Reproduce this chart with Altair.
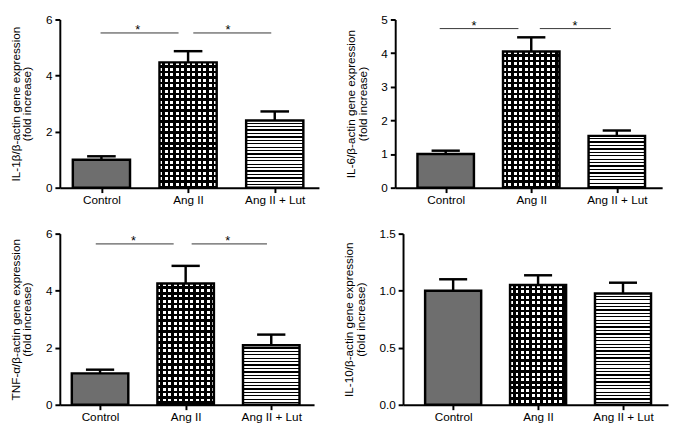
import json
import altair as alt
import pandas as pd

categories = ["Control", "Ang II", "Ang II + Lut"]

il1b_mean = [1.00, 4.47, 2.40]
il1b_err = [0.12, 0.40, 0.32]
il6_mean = [1.00, 4.05, 1.54]
il6_err = [0.10, 0.42, 0.16]
tnf_mean = [1.10, 4.25, 2.09]
tnf_err = [0.13, 0.62, 0.37]
il10_mean = [1.00, 1.05, 0.975]
il10_err = [0.10, 0.085, 0.095]

# significance bars: (start, end, height) in category-index units, and star positions
il1b_sig = [(-0.01, 0.89, 5.52), (1.06, 1.96, 5.52)]
il1b_star = [0.42, 1.46]
il6_sig = [(-0.07, 0.85, 4.73), (1.10, 1.93, 4.73)]
il6_star = [0.33, 1.51]
tnf_sig = [(-0.05, 0.86, 5.64), (1.07, 1.95, 5.64)]
tnf_star = [0.39, 1.49]

FONT = "Liberation Sans"
HW = 0.33      # bar half width (index units)
CAP = 0.165    # error cap half width


def stripes(length_px, period, dark, dark_color, light_color):
    stops = []
    pos = 0.0
    while pos < length_px - 1e-6:
        mid = min(pos + period - dark, length_px)
        end = min(pos + period, length_px)
        stops += [(pos, light_color), (mid, light_color), (mid, dark_color), (end, dark_color)]
        pos += period
    return [alt.GradientStop(offset=round(p / length_px, 5), color=c) for p, c in stops]


def grad(stops, vertical):
    if vertical:
        return alt.LinearGradient(gradient="linear", stops=stops, x1=0, x2=0, y1=0, y2=1)
    return alt.LinearGradient(gradient="linear", stops=stops, x1=0, x2=1, y1=0, y2=0)


def panel(means, errs, ymax, yticks, fmt, title, dom, w, h, sig=None, stars=None):
    df = pd.DataFrame({
        "cat": categories,
        "idx": [0, 1, 2],
        "mean": means,
        "top": [m + e for m, e in zip(means, errs)],
    })
    df["x1"] = df["idx"] - HW
    df["x2"] = df["idx"] + HW
    df["c1"] = df["idx"] - CAP
    df["c2"] = df["idx"] + CAP
    df["base"] = 0.0

    labexpr = json.dumps(categories) + "[datum.value]"
    xs = alt.Scale(domain=dom, nice=False, zero=False)
    ys = alt.Scale(domain=[0, ymax], nice=False)
    xax = alt.Axis(values=[0, 1, 2], labelExpr=labexpr, title=None, labelPadding=2,
                   labelFlush=False)
    yax = alt.Axis(values=yticks, format=fmt, title=title, titlePadding=12, labelPadding=3)

    base = alt.Chart(df)
    X = alt.X("idx:Q", scale=xs, axis=xax)
    err = base.mark_rule(color="black", strokeWidth=2.5).encode(
        x=X, y=alt.Y("mean:Q", scale=ys, axis=yax), y2="top:Q")
    cap = base.mark_rule(color="black", strokeWidth=2.5).encode(
        x=alt.X("c1:Q", scale=xs, axis=xax), x2="c2:Q", y=alt.Y("top:Q", scale=ys, axis=yax))

    unit_x = w / (dom[1] - dom[0])
    bw = 2 * HW * unit_x
    layers = [err, cap]
    for i in range(3):
        bh = means[i] / ymax * h
        sub = base.transform_filter(alt.datum.idx == i)
        enc = dict(x=alt.X("x1:Q", scale=xs, axis=xax), x2="x2:Q",
                   y=alt.Y("mean:Q", scale=ys, axis=yax), y2="base:Q")
        if i == 0:
            layers.append(sub.mark_rect(fill="#6e6e6e", stroke="black", strokeWidth=2.5).encode(**enc))
        elif i == 1:
            vs = grad(stripes(bw, 5.6, 2.6, "black", "white"), vertical=False)
            hs = grad(stripes(bh, 5.6, 2.6, "black", "rgba(0,0,0,0)"), vertical=True)
            layers.append(sub.mark_rect(fill=vs, strokeWidth=0).encode(**enc))
            layers.append(sub.mark_rect(fill=hs, stroke="black", strokeWidth=2.5).encode(**enc))
        else:
            hs = grad(stripes(bh, 3.5, 1.3, "black", "white"), vertical=True)
            layers.append(sub.mark_rect(fill=hs, stroke="black", strokeWidth=2.5).encode(**enc))

    if sig:
        sdf = pd.DataFrame({"s": [a for a, b, c in sig], "e": [b for a, b, c in sig],
                            "y": [c for a, b, c in sig], "sx": stars})
        sb = alt.Chart(sdf)
        layers.append(sb.mark_rule(color="#333333", strokeWidth=1).encode(
            x=alt.X("s:Q", scale=xs, axis=xax), x2="e:Q", y=alt.Y("y:Q", scale=ys, axis=yax)))
        layers.append(sb.mark_text(text="*", fontSize=13, font=FONT, color="black",
                                   baseline="alphabetic", dy=1).encode(
            x=alt.X("sx:Q", scale=xs, axis=xax), y=alt.Y("y:Q", scale=ys, axis=yax)))

    return alt.layer(*layers).properties(width=w, height=h)


p1 = panel(il1b_mean, il1b_err, 6, [0, 2, 4, 6], "d",
           ["IL-1β/β-actin gene expression", "(fold increase)"],
           [-0.48, 2.51], 265, 172, il1b_sig, il1b_star)
p2 = panel(il6_mean, il6_err, 5, [0, 1, 2, 3, 4, 5], "d",
           ["IL-6/β-actin gene expression", "(fold increase)"],
           [-0.59, 2.53], 273, 172, il6_sig, il6_star)
p3 = panel(tnf_mean, tnf_err, 6, [0, 2, 4, 6], "d",
           ["TNF-α/β-actin gene expression", "(fold increase)"],
           [-0.47, 2.50], 260, 175, tnf_sig, tnf_star)
p4 = panel(il10_mean, il10_err, 1.5, [0, 0.5, 1.0, 1.5], ".1f",
           ["IL-10/β-actin gene expression", "(fold increase)"],
           [-0.59, 2.53], 271, 175)

row1 = alt.hconcat(p1, p2, spacing=24)
row2 = alt.hconcat(p3, p4, spacing=27)
chart = alt.vconcat(row1, row2, spacing=21).properties(
    padding={"left": 0, "top": 0, "right": 0, "bottom": 0}, background="white").configure_view(
    stroke="transparent").configure_axis(
    labelFont=FONT, titleFont=FONT, labelFontSize=12, titleFontSize=12,
    titleFontWeight="normal", labelColor="black", titleColor="black",
    domainColor="black", tickColor="black", domainWidth=2, tickWidth=2,
    tickSize=5, grid=False, titleLineHeight=12)

chart.save("out.html", embed_options={"renderer": "svg", "actions": False})
